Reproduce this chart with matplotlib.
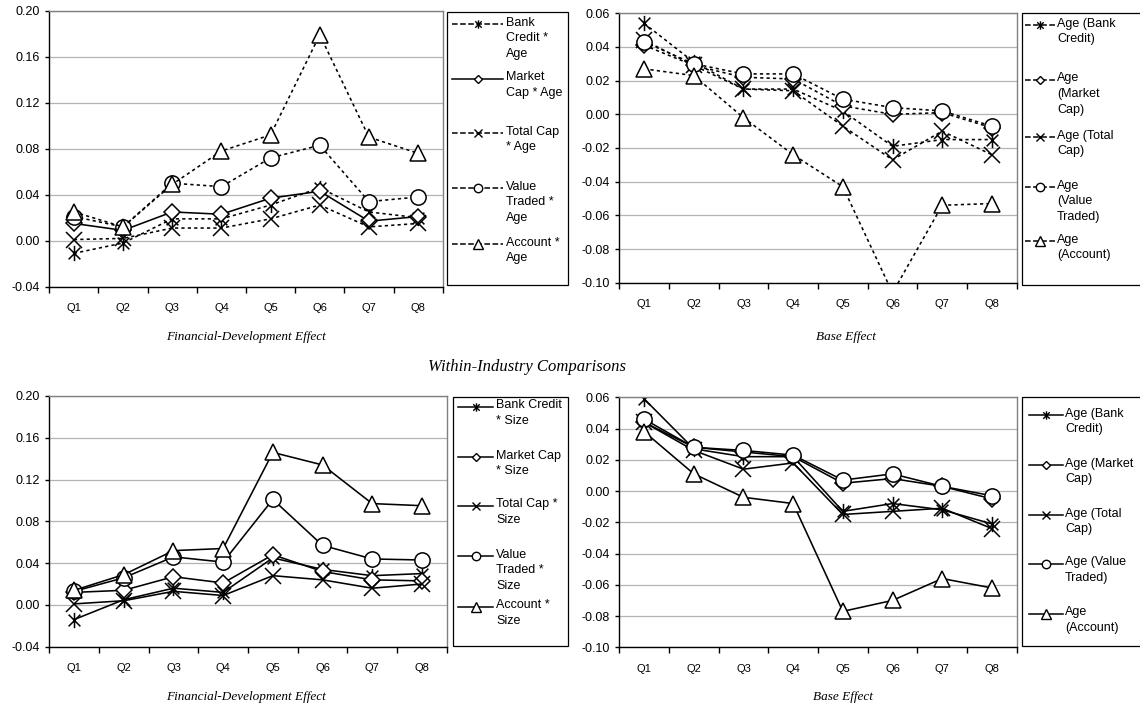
import numpy as np
import matplotlib
matplotlib.use('Agg')
import matplotlib.pyplot as plt
from matplotlib.lines import Line2D
from matplotlib.patches import Rectangle
from matplotlib.path import Path

plt.rcParams['font.family'] = ['Liberation Sans', 'DejaVu Sans']

quarters = ['Q1', 'Q2', 'Q3', 'Q4', 'Q5', 'Q6', 'Q7', 'Q8']

# financial-development effect, age interactions (top left)
fd_age_bank = [-0.011, -0.002, 0.019, 0.019, 0.031, 0.046, 0.025, 0.020]
fd_age_market = [0.015, 0.009, 0.025, 0.023, 0.037, 0.043, 0.017, 0.021]
fd_age_total = [0.001, 0.002, 0.011, 0.011, 0.019, 0.031, 0.012, 0.015]
fd_age_value = [0.021, 0.012, 0.050, 0.047, 0.072, 0.083, 0.034, 0.038]
fd_age_account = [0.025, 0.012, 0.049, 0.078, 0.092, 0.179, 0.090, 0.076]

# base effect (top right)
base_age_bank = [0.054, 0.031, 0.015, 0.015, 0.002, -0.019, -0.015, -0.015]
base_age_market = [0.041, 0.029, 0.022, 0.021, 0.005, 0.000, 0.001, -0.008]
base_age_total = [0.044, 0.029, 0.015, 0.014, -0.007, -0.027, -0.010, -0.024]
base_age_value = [0.043, 0.030, 0.024, 0.024, 0.009, 0.004, 0.002, -0.007]
base_age_account = [0.027, 0.023, -0.002, -0.024, -0.043, -0.106, -0.054, -0.053]

# financial-development effect, size interactions (bottom left)
fd_size_bank = [-0.014, 0.005, 0.016, 0.012, 0.045, 0.034, 0.028, 0.030]
fd_size_market = [0.012, 0.014, 0.027, 0.021, 0.048, 0.032, 0.024, 0.023]
fd_size_total = [0.001, 0.004, 0.013, 0.009, 0.028, 0.024, 0.016, 0.020]
fd_size_value = [0.013, 0.026, 0.046, 0.041, 0.101, 0.057, 0.044, 0.043]
fd_size_account = [0.014, 0.029, 0.052, 0.054, 0.146, 0.134, 0.097, 0.095]

# base effect (bottom right)
base_size_bank = [0.059, 0.027, 0.022, 0.022, -0.013, -0.008, -0.012, -0.021]
base_size_market = [0.044, 0.028, 0.025, 0.022, 0.005, 0.008, 0.003, -0.005]
base_size_total = [0.044, 0.026, 0.014, 0.018, -0.015, -0.013, -0.011, -0.024]
base_size_value = [0.046, 0.028, 0.026, 0.023, 0.007, 0.011, 0.003, -0.003]
base_size_account = [0.038, 0.011, -0.004, -0.008, -0.077, -0.070, -0.056, -0.062]

labels_fd_age = ['Bank\nCredit *\nAge', 'Market\nCap * Age', 'Total Cap\n* Age',
                 'Value\nTraded *\nAge', 'Account *\nAge']
labels_base_age = ['Age (Bank\nCredit)', 'Age\n(Market\nCap)', 'Age (Total\nCap)',
                   'Age\n(Value\nTraded)', 'Age\n(Account)']
labels_fd_size = ['Bank Credit\n* Size', 'Market Cap\n* Size', 'Total Cap *\nSize',
                  'Value\nTraded *\nSize', 'Account *\nSize']
labels_base_size = ['Age (Bank\nCredit)', 'Age (Market\nCap)', 'Age (Total\nCap)',
                    'Age (Value\nTraded)', 'Age\n(Account)']

W, H = 1140, 708
DASH = (0, (2, 2))

# excel style asterisk: an X with a vertical bar
asterisk = Path([(-1, -1), (1, 1), (-1, 1), (1, -1), (0, -1.3), (0, 1.3)],
                [Path.MOVETO, Path.LINETO] * 3)
markers = [asterisk, 'D', 'x', 'o', '^']
msizes = [11, 8, 11, 11, 12]


def px_box(l, t, r, b):
    return [l / W, 1 - b / H, (r - l) / W, (b - t) / H]


def setup_axes(ax, yticks):
    ax.set_xlim(-0.5, 7.5)
    ax.set_ylim(yticks[0], yticks[-1])
    ax.set_yticks(yticks)
    ax.set_yticklabels(['%.2f' % v for v in yticks], fontsize=9)
    ax.set_xticks(np.arange(8))
    ax.set_xticklabels(quarters, fontsize=8)
    ax.set_xticks(np.arange(-0.5, 8.0, 1.0), minor=True)
    ax.tick_params(axis='x', which='major', length=0, pad=12)
    ax.tick_params(axis='x', which='minor', length=4, direction='out', width=1)
    ax.tick_params(axis='y', length=3, direction='out', width=1, pad=4)
    ax.yaxis.grid(True, color='#b4b4b4', linewidth=0.9)
    ax.set_axisbelow(True)
    for side in ['left', 'bottom']:
        ax.spines[side].set_color('black')
        ax.spines[side].set_linewidth(1.0)
    for side in ['top', 'right']:
        ax.spines[side].set_color('#808080')
        ax.spines[side].set_linewidth(1.0)


def plot_series(ax, series, styles):
    lines = []
    for vals, mk, ms, ls in zip(series, markers, msizes, styles):
        ln, = ax.plot(np.arange(8), vals, color='black', linestyle=ls, linewidth=1.15,
                      marker=mk, markersize=ms, markerfacecolor='white',
                      markeredgecolor='black', markeredgewidth=1.1)
        lines.append(ln)
    return lines


def draw_legend(fig, box, handle_x, text_x, ys, lines, labels):
    l, t, r, b = box
    fig.add_artist(Rectangle((l / W, 1 - b / H), (r - l) / W, (b - t) / H,
                             transform=fig.transFigure, fill=False,
                             edgecolor='black', linewidth=0.9))
    for y, ln, label in zip(ys, lines, labels):
        fy = 1 - y / H
        fig.add_artist(Line2D([handle_x[0] / W, handle_x[1] / W], [fy, fy],
                              transform=fig.transFigure, color='black',
                              linestyle=ln.get_linestyle(), linewidth=1.1))
        fig.add_artist(Line2D([(handle_x[0] + handle_x[1]) / 2 / W], [fy],
                              transform=fig.transFigure, linestyle='none',
                              marker=ln.get_marker(), markersize=ln.get_markersize() * 0.55,
                              markerfacecolor='white', markeredgecolor='black',
                              markeredgewidth=1.0))
        fig.text(text_x / W, fy + 7.5 / H, label, fontsize=9, va='top', ha='left',
                 linespacing=1.42)


fig = plt.figure(figsize=(11.4, 7.08), dpi=100)

yt_fd = np.round(np.arange(-0.04, 0.201, 0.04), 2)
yt_base = np.round(np.arange(-0.10, 0.061, 0.02), 2)

ax1 = fig.add_axes(px_box(49.3, 10.7, 442.7, 286.7))
setup_axes(ax1, yt_fd)
l1 = plot_series(ax1, [fd_age_bank, fd_age_market, fd_age_total, fd_age_value, fd_age_account],
                 [DASH, '-', DASH, DASH, DASH])
draw_legend(fig, (447, 12, 568, 285), (452, 503), 506, [24, 79, 133, 188, 244], l1, labels_fd_age)

ax2 = fig.add_axes(px_box(619.3, 13.3, 1016.7, 282.7))
setup_axes(ax2, yt_base)
l2 = plot_series(ax2, [base_age_bank, base_age_market, base_age_total, base_age_value, base_age_account],
                 [DASH] * 5)
draw_legend(fig, (1022, 13, 1160, 285), (1025, 1055), 1057, [25, 80, 137, 187, 241], l2, labels_base_age)

ax3 = fig.add_axes(px_box(49.3, 396, 446.7, 646.7))
setup_axes(ax3, yt_fd)
l3 = plot_series(ax3, [fd_size_bank, fd_size_market, fd_size_total, fd_size_value, fd_size_account],
                 ['-'] * 5)
draw_legend(fig, (453, 397, 568, 646), (458, 493), 496, [407, 457, 506, 556, 607], l3, labels_fd_size)

ax4 = fig.add_axes(px_box(619.3, 397.3, 1016.7, 647.3))
setup_axes(ax4, yt_base)
l4 = plot_series(ax4, [base_size_bank, base_size_market, base_size_total, base_size_value, base_size_account],
                 ['-'] * 5)
draw_legend(fig, (1022, 397, 1160, 646), (1029, 1063), 1065, [415, 465, 515, 564, 614], l4, labels_base_size)

serif = dict(family=['Liberation Serif', 'DejaVu Serif'], style='italic')
fig.text(246 / W, 1 - 337 / H, 'Financial-Development Effect', ha='center', va='center', fontsize=9.5, **serif)
fig.text(846 / W, 1 - 337 / H, 'Base Effect', ha='center', va='center', fontsize=9.5, **serif)
fig.text(527 / W, 1 - 367 / H, 'Within-Industry Comparisons', ha='center', va='center', fontsize=12, **serif)
fig.text(246 / W, 1 - 697 / H, 'Financial-Development Effect', ha='center', va='center', fontsize=9.5, **serif)
fig.text(843 / W, 1 - 697 / H, 'Base Effect', ha='center', va='center', fontsize=9.5, **serif)

fig.savefig('out.png', dpi=100)
